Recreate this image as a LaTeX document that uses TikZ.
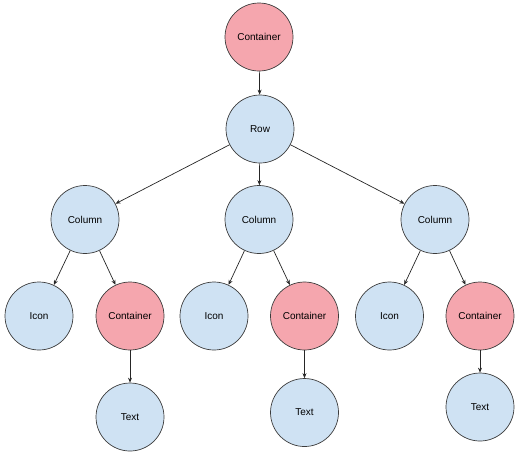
\documentclass[tikz,border=0pt]{standalone}
\usepackage{fontspec}
\setmainfont{Liberation Sans}
\usetikzlibrary{arrows.meta}
\definecolor{bluefill}{RGB}{207,226,243}
\definecolor{redfill}{RGB}{245,166,174}
\definecolor{edgegray}{RGB}{60,60,60}
\begin{document}
\begin{tikzpicture}[x=1pt,y=-1pt,
  nd/.style={circle,draw=edgegray,line width=0.7pt,minimum size=68pt,inner sep=0pt,font=\fontsize{10}{12}\selectfont},
  bl/.style={nd,fill=bluefill},
  rd/.style={nd,fill=redfill},
  arr/.style={-{Stealth[length=5pt,width=4pt]},line width=0.7pt,draw=black!85}]
\useasboundingbox (0,0) rectangle (521,459);
\node[rd] (c0) at (259,37) {Container};
\node[bl] (row) at (260,129) {Row};
\node[bl] (col1) at (85,219.5) {Column};
\node[bl] (col2) at (259,219.5) {Column};
\node[bl] (col3) at (435,219.5) {Column};
\node[bl] (i1) at (39,316) {Icon};
\node[rd] (c1) at (130,316) {Container};
\node[bl] (t1) at (130,417) {Text};
\node[bl] (i2) at (214,316) {Icon};
\node[rd] (c2) at (304.5,316) {Container};
\node[bl] (t2) at (304.5,412.5) {Text};
\node[bl] (i3) at (389.5,316) {Icon};
\node[rd] (c3) at (480,316) {Container};
\node[bl] (t3) at (480,407) {Text};
\draw[arr] (c0) -- (row);
\draw[arr] (row) -- (col1);
\draw[arr] (row) -- (col2);
\draw[arr] (row) -- (col3);
\draw[arr] (col1) -- (i1);
\draw[arr] (col1) -- (c1);
\draw[arr] (c1) -- (t1);
\draw[arr] (col2) -- (i2);
\draw[arr] (col2) -- (c2);
\draw[arr] (c2) -- (t2);
\draw[arr] (col3) -- (i3);
\draw[arr] (col3) -- (c3);
\draw[arr] (c3) -- (t3);
\end{tikzpicture}
\end{document}
